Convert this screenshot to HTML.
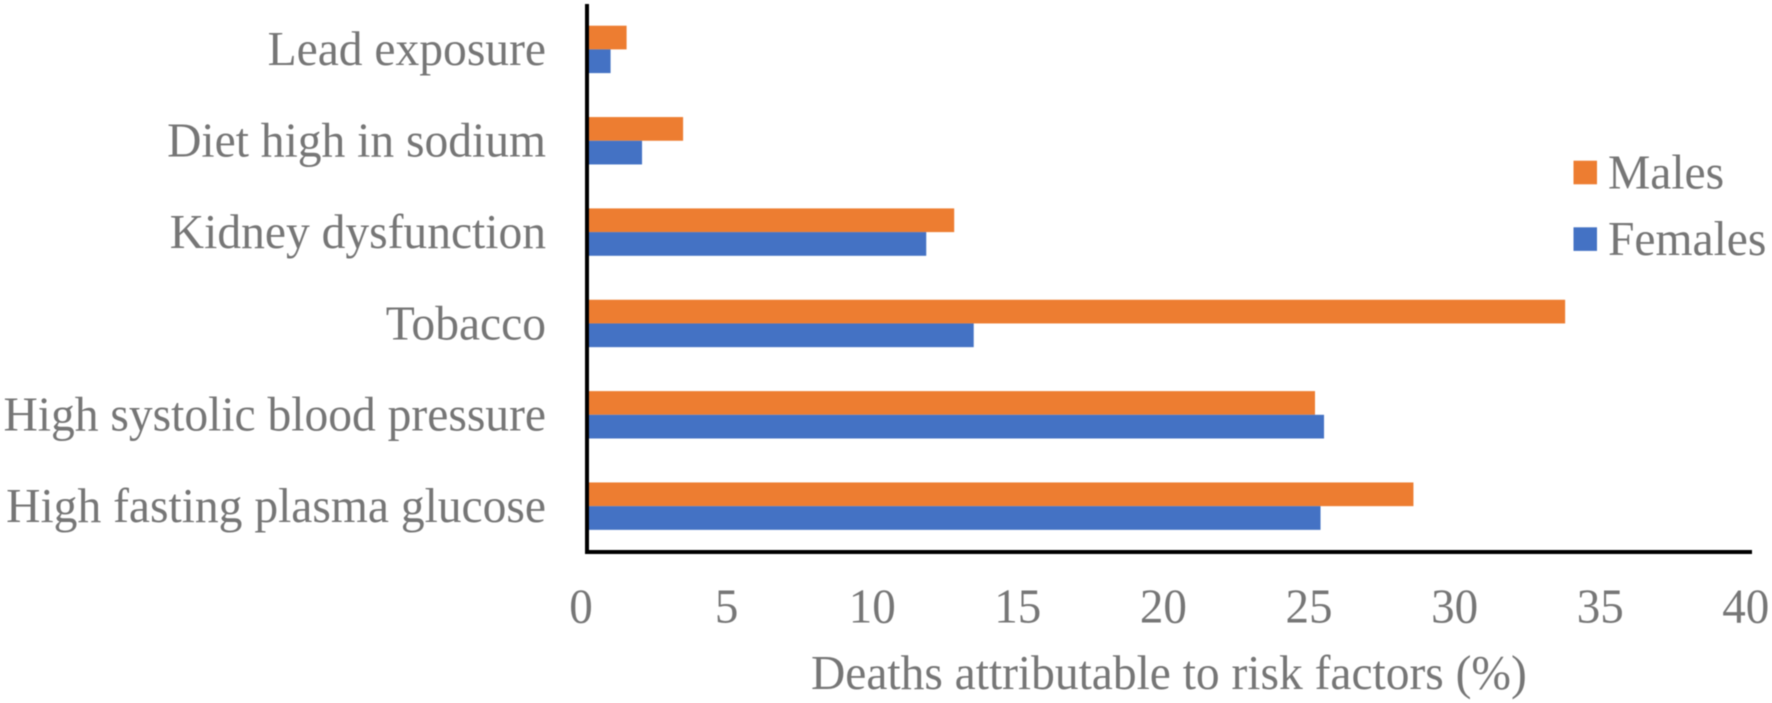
<!DOCTYPE html>
<html>
<head>
<meta charset="utf-8">
<style>
html,body{margin:0;padding:0;background:#fff;width:1772px;height:703px;overflow:hidden}
svg{display:block;filter:blur(0.4px)}
text{font-family:"Liberation Serif",serif;font-size:49px;fill:#767676}
</style>
</head>
<body>
<svg id="chart" xmlns="http://www.w3.org/2000/svg" width="1772" height="703" viewBox="0 0 1772 703">
  <rect x="0" y="0" width="1772" height="703" fill="#ffffff"/>
  <g id="bars"></g>
  <g id="yLabels"></g>
  <g id="xLabels"></g>
  <rect x="585" y="4" width="4" height="550" fill="#000000"/>
  <rect x="585" y="550" width="1167" height="4" fill="#000000"/>
  <text transform="translate(811,689) scale(0.969,1)">Deaths attributable to risk factors (%)</text>
  <g>
    <rect x="1573.5" y="160.7" width="23.5" height="23.6" fill="#ED7D31"/>
    <text transform="translate(1608,188.5) scale(0.97,1)">Males</text>
    <rect x="1573.5" y="227.3" width="23.5" height="23.6" fill="#4472C4"/>
    <text transform="translate(1608,255) scale(0.97,1)">Females</text>
  </g>
</svg>
<script>
const categories = ["Lead exposure", "Diet high in sodium", "Kidney dysfunction", "Tobacco", "High systolic blood pressure", "High fasting plasma glucose"];
const malesValues = [1.36, 3.30, 12.61, 33.59, 25.0, 28.38];
const femalesValues = [0.81, 1.89, 11.65, 13.28, 25.31, 25.19];
const xTicks = [0, 5, 10, 15, 20, 25, 30, 35, 40];

const NS = "http://www.w3.org/2000/svg";
const xMin = 0, xMax = 40, xLeft = 587, xRight = 1751.8;
function xScale(v) { return xLeft + (v - xMin) / (xMax - xMin) * (xRight - xLeft); }
const bandTop = 25.7, bandStep = 91.35, barH = 23.7;
function yScale(i) { return bandTop + i * bandStep; }

const barsG = document.getElementById("bars");
const yG = document.getElementById("yLabels");
const xG = document.getElementById("xLabels");

categories.forEach(function (cat, i) {
  const top = yScale(i);

  const m = document.createElementNS(NS, "rect");
  
  
  m.setAttribute("x", xScale(0));
  m.setAttribute("y", top);
  m.setAttribute("width", xScale(malesValues[i]) - xScale(0));
  m.setAttribute("height", barH);
  m.setAttribute("fill", "#ED7D31");
  barsG.appendChild(m);

  const f = document.createElementNS(NS, "rect");
  
  
  f.setAttribute("x", xScale(0));
  f.setAttribute("y", top + barH);
  f.setAttribute("width", xScale(femalesValues[i]) - xScale(0));
  f.setAttribute("height", barH);
  f.setAttribute("fill", "#4472C4");
  barsG.appendChild(f);

  const t = document.createElementNS(NS, "text");
  
  
  t.setAttribute("transform", "translate(546," + (top + 39.5) + ") scale(0.97,1)");
  t.setAttribute("text-anchor", "end");
  t.textContent = cat;
  yG.appendChild(t);
});

xTicks.forEach(function (v) {
  const t = document.createElementNS(NS, "text");
  
  
  t.setAttribute("transform", "translate(" + (xScale(v) - 6) + ",622.5) scale(0.96,1)");
  t.setAttribute("text-anchor", "middle");
  t.textContent = String(v);
  xG.appendChild(t);
});
</script>
</body>
</html>
